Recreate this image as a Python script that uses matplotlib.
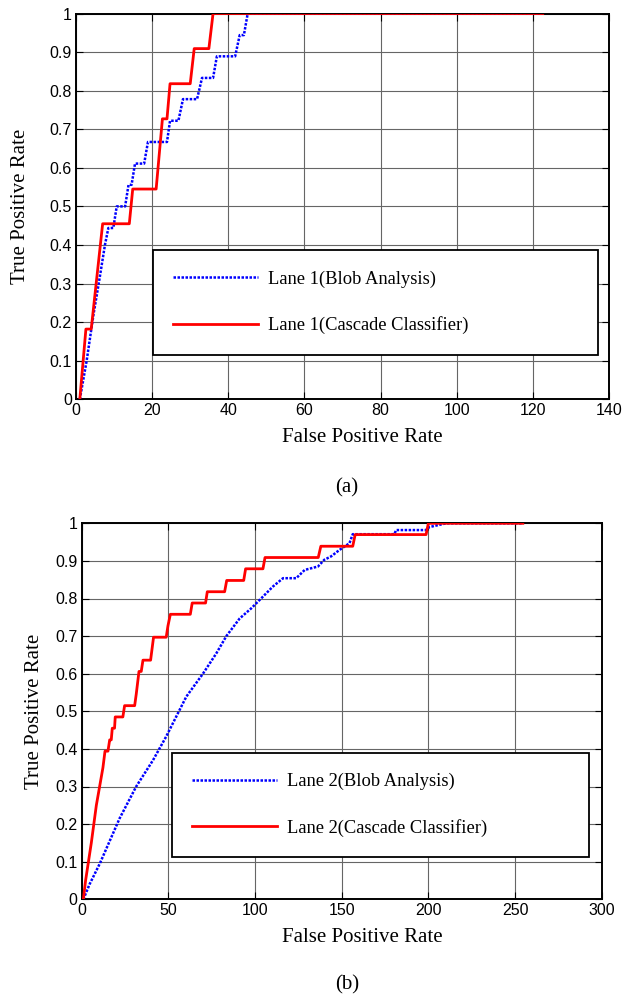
import matplotlib
matplotlib.use("Agg")
import matplotlib.pyplot as plt

# ---------------- data ----------------
# (a) Lane 1
lane1_blob_fpr = [1, 2.8, 4.6, 6.3, 7.6, 8.5, 9.8, 10.7, 12.9, 13.8, 14.6, 15.5, 17.9, 18.9,
                  23.9, 24.7, 26.9, 28.1, 31.8, 33.1, 36.0, 37.0, 41.8, 43.0, 44.1, 45.1, 122.3]
lane1_blob_tpr = [0, 0.10, 0.22, 0.32, 0.40, 0.444, 0.444, 0.5, 0.5, 0.556, 0.556, 0.611, 0.611, 0.667,
                  0.667, 0.722, 0.722, 0.778, 0.778, 0.833, 0.833, 0.889, 0.889, 0.944, 0.944, 1.0, 1.0]

lane1_casc_fpr = [1, 2.6, 4.0, 7.0, 14.0, 14.9, 21.05, 22.7, 23.9, 24.7, 30.0, 31.05, 34.9, 36.0, 122.6]
lane1_casc_tpr = [0, 0.182, 0.182, 0.455, 0.455, 0.545, 0.545, 0.727, 0.727, 0.818, 0.818, 0.909,
                  0.909, 1.0, 1.0]

# (b) Lane 2
lane2_blob_fpr = [1, 4.6, 10.5, 21.9, 31.5, 41.2, 48.8, 54.6, 60.4, 70, 77.7, 83.5, 91.2, 97.9,
                  104.6, 110.4, 116.2, 123.8, 128.7, 136.3, 140, 143.9, 148.7, 154.5, 156.4, 180.4,
                  181.4, 198.7, 200.6, 210.3, 254]
lane2_blob_tpr = [0, 0.04, 0.095, 0.215, 0.30, 0.37, 0.433, 0.486, 0.539, 0.60, 0.654, 0.70, 0.747,
                  0.774, 0.805, 0.832, 0.854, 0.854, 0.876, 0.885, 0.903, 0.912, 0.929, 0.947, 0.971,
                  0.971, 0.982, 0.982, 0.99, 1.0, 1.0]

lane2_casc_fpr = [1, 2.3, 5.6, 8.5, 10.4, 12.3, 13.5, 15.2, 16.2, 17.1, 17.7, 19.0, 19.4, 23.8, 24.8,
                  30.6, 31.5, 33.1, 34.4, 35.4, 39.8, 41.5, 48.8, 49.8, 51.2, 62.7, 63.8, 71.5, 72.5,
                  82.5, 83.7, 93.5, 94.6, 104.6, 105.8, 136.5, 138, 156.4, 157.8, 198.7, 200, 254.5]
lane2_casc_tpr = [0, 0.05, 0.15, 0.25, 0.30, 0.35, 0.394, 0.394, 0.424, 0.424, 0.455, 0.455, 0.485,
                  0.485, 0.515, 0.515, 0.545, 0.606, 0.606, 0.636, 0.636, 0.697, 0.697, 0.727, 0.758,
                  0.758, 0.788, 0.788, 0.818, 0.818, 0.848, 0.848, 0.879, 0.879, 0.909, 0.909, 0.939,
                  0.939, 0.970, 0.970, 1.0, 1.0]

xticks_a = [0, 20, 40, 60, 80, 100, 120, 140]
xticks_b = [0, 50, 100, 150, 200, 250, 300]
yticks = [0, 0.1, 0.2, 0.3, 0.4, 0.5, 0.6, 0.7, 0.8, 0.9, 1]
ytick_labels = ["0", "0.1", "0.2", "0.3", "0.4", "0.5", "0.6", "0.7", "0.8", "0.9", "1"]

labels_a = ["Lane 1(Blob Analysis)", "Lane 1(Cascade Classifier)"]
labels_b = ["Lane 2(Blob Analysis)", "Lane 2(Cascade Classifier)"]
panel_tags = ["(a)", "(b)"]
xlabel = "False Positive Rate"
ylabel = "True Positive Rate"

# ---------------- style ----------------
W, H = 624, 998
fig = plt.figure(figsize=(W / 100, H / 100), dpi=100)

SERIF = "Liberation Serif"
SANS = "Liberation Sans"
BLUE = (0, 0, 1)
RED = (1, 0, 0)


def px_axes(l, r, t, b):
    return [l / W, 1 - b / H, (r - l) / W, (b - t) / H]


def style_axes(ax, xticks, xmax):
    ax.set_xlim(0, xmax)
    ax.set_ylim(0, 1)
    ax.set_xticks(xticks)
    ax.set_xticklabels([str(t) for t in xticks], family=SANS, fontsize=11.5)
    ax.set_yticks(yticks)
    ax.set_yticklabels(ytick_labels, family=SANS, fontsize=11.5)
    ax.tick_params(direction="in", length=5, width=0.8, top=True, right=True, pad=3,
                   colors="black")
    ax.grid(True, color="0.4", linewidth=0.8, linestyle="-")
    ax.set_axisbelow(True)
    for s in ax.spines.values():
        s.set_linewidth(1.4)
        s.set_color("black")


def draw_panel(rect, blob_x, blob_y, casc_x, casc_y, xticks, xmax, labels, leg_bbox, lab_coords, tag, tag_y):
    ax = fig.add_axes(rect)
    ax.plot(blob_x, blob_y, color=BLUE, linewidth=1.8, linestyle=(0, (1, 0.6)),
            label=labels[0], zorder=3)
    ax.plot(casc_x, casc_y, color=RED, linewidth=2.0, linestyle="-",
            label=labels[1], zorder=3)
    style_axes(ax, xticks, xmax)
    ax.set_xlabel(xlabel, family=SERIF, fontsize=15)
    ax.set_ylabel(ylabel, family=SERIF, fontsize=15)
    ax.xaxis.set_label_coords(lab_coords[0], lab_coords[1])
    ax.yaxis.set_label_coords(lab_coords[2], 0.5)
    leg = ax.legend(loc="upper left", bbox_to_anchor=leg_bbox, mode="expand",
                    borderaxespad=0, prop={"family": SERIF, "size": 13.3},
                    handlelength=4.6, handletextpad=0.55, borderpad=1.1,
                    labelspacing=1.55, fancybox=False, frameon=True, framealpha=1)
    leg.get_frame().set_edgecolor("black")
    leg.get_frame().set_linewidth(1.3)
    fig.text(347 / W, 1 - tag_y / H, tag, family=SERIF, fontsize=15,
             ha="center", va="center")
    return ax


# panel (a): axes pixel box
rect_a = px_axes(76, 609, 13.5, 399.3)
la_l, la_r, la_t, la_b = 152.7, 598, 250, 355.7
leg_a = ((la_l - 76) / 533, (399.3 - la_b) / 385.8, (la_r - la_l) / 533, (la_b - la_t) / 385.8)
draw_panel(rect_a, lane1_blob_fpr, lane1_blob_tpr, lane1_casc_fpr, lane1_casc_tpr,
           xticks_a, 140, labels_a, leg_a, ((362 - 76) / 533, -0.075, -0.086), panel_tags[0], 488)

rect_b = px_axes(81.6, 601.7, 523.3, 899.3)
lb_l, lb_r, lb_t, lb_b = 172, 589, 752.7, 857.3
leg_b = ((lb_l - 81.6) / 520.1, (899.3 - lb_b) / 376, (lb_r - lb_l) / 520.1, (lb_b - lb_t) / 376)
draw_panel(rect_b, lane2_blob_fpr, lane2_blob_tpr, lane2_casc_fpr, lane2_casc_tpr,
           xticks_b, 300, labels_b, leg_b, ((362 - 81.6) / 520.1, -0.077, -0.072), panel_tags[1], 985)

fig.savefig("out.png", dpi=100)
